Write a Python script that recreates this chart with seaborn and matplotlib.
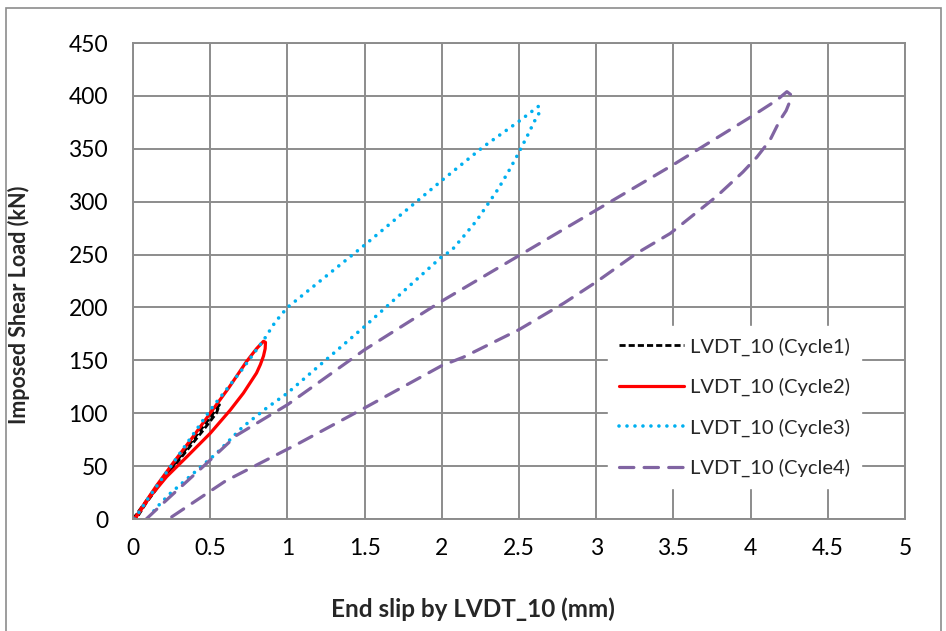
import numpy as np
import pandas as pd
import matplotlib
matplotlib.use("Agg")
import matplotlib.pyplot as plt
import seaborn as sns
from matplotlib.lines import Line2D

# ---- data ----
c1_x = [0.00, 0.10, 0.20, 0.30, 0.40, 0.50, 0.56, 0.54, 0.45, 0.30, 0.18, 0.08, 0.02]
c1_y = [0, 20, 39, 58, 77, 96, 108, 100, 83, 56, 34, 14, 0]

c2_x = [0.01, 0.067, 0.15, 0.26, 0.38, 0.50, 0.62, 0.736, 0.80, 0.845, 0.858, 0.856, 0.845,
        0.825, 0.80, 0.715, 0.63, 0.50, 0.35, 0.218, 0.11, 0.035, 0.01]
c2_y = [0, 13, 31, 53, 76, 100, 124, 149, 161, 168, 167, 161, 154, 146, 138, 119, 103, 81,
        59, 40, 21, 5, 0]

c3_x = [0.01, 0.10, 0.26, 0.50, 0.70, 0.85, 0.92, 1.00, 1.50, 2.00, 2.27, 2.50, 2.625, 2.635,
        2.60, 2.55, 2.49, 2.43, 2.365, 2.295, 2.225, 2.14, 2.064, 2.00, 1.50, 1.00, 0.866,
        0.71, 0.54, 0.39, 0.24, 0.16, 0.12]
c3_y = [0, 20, 53, 103, 140, 170, 186, 200, 259, 320, 352, 376, 390, 385, 376, 361, 344, 328,
        312, 297, 282, 267, 254, 248, 182, 119, 105, 87, 62, 43, 24, 12, 5]

c4_x = [0.086, 0.24, 0.48, 0.67, 1.00, 1.50, 2.00, 2.50, 3.00, 3.50, 4.00, 4.17, 4.235, 4.262,
        4.255, 4.23, 4.19, 4.125, 4.04, 3.95, 3.78, 3.48, 3.26, 3.00, 2.79, 2.50, 2.14, 2.00,
        1.50, 1.08, 0.60, 0.23]
c4_y = [0, 21, 53, 79, 108, 160, 206, 249, 292, 335, 380, 396, 404, 401, 395, 386, 377, 358,
        342, 328, 305, 270, 251, 224, 204, 179, 153, 145, 105, 72, 36, 0]

labels = ["LVDT_10 (Cycle1)", "LVDT_10 (Cycle2)", "LVDT_10 (Cycle3)", "LVDT_10 (Cycle4)"]
x_ticks = [0, 0.5, 1, 1.5, 2, 2.5, 3, 3.5, 4, 4.5, 5]
y_ticks = [0, 50, 100, 150, 200, 250, 300, 350, 400, 450]

# ---- style ----
sns.set_theme(style="white")
plt.rcParams["font.family"] = ["Lato", "DejaVu Sans"]

fig = plt.figure(figsize=(9.46, 6.31), dpi=100)
ax = fig.add_axes([133 / 946, 1 - 519 / 631, 772 / 946, 476 / 631])

styles = [
    dict(color="black", lw=2.0, dashes=(2.2, 1.1), capstyle="butt"),
    dict(color="#FF0000", lw=2.3, dashes=None, capstyle="round"),
    dict(color="#00B0F0", lw=2.6, dashes=(0.01, 2.2), capstyle="round"),
    dict(color="#8064A2", lw=2.3, dashes=(4.5, 3.2), capstyle="round"),
]

series = [(c1_x, c1_y), (c2_x, c2_y), (c3_x, c3_y), (c4_x, c4_y)]
handles = []
for (xs, ys), lab, st in zip(series, labels, styles):
    df = pd.DataFrame({"x": xs, "y": ys})
    n_before = len(ax.lines)
    sns.lineplot(data=df, x="x", y="y", sort=False, estimator=None, ax=ax,
                 color=st["color"], linewidth=st["lw"], legend=False)
    ln = ax.lines[n_before]
    if st["dashes"] is not None:
        ln.set_dashes(st["dashes"])
        ln.set_dash_capstyle(st["capstyle"])
    ln.set_solid_capstyle("round")
    ln.set_solid_joinstyle("round")
    ln.set_dash_joinstyle("round")
    h = Line2D([0], [0], color=st["color"], lw=st["lw"])
    if st["dashes"] is not None:
        h.set_dashes(st["dashes"])
        h.set_dash_capstyle(st["capstyle"])
    handles.append(h)

ax.set_xlim(0, 5)
ax.set_ylim(0, 450)
ax.set_xticks(x_ticks)
ax.set_xticklabels([f"{v:g}" for v in x_ticks])
ax.set_yticks(y_ticks)
ax.set_yticklabels([str(v) for v in y_ticks])
ax.grid(True, color="#8C8C8C", linewidth=1.4)
ax.set_axisbelow(True)
for s in ax.spines.values():
    s.set_color("#8C8C8C")
    s.set_linewidth(1.4)
ax.tick_params(axis="both", length=0, labelsize=16.5, colors="black")
ax.tick_params(axis="y", pad=18)
ax.tick_params(axis="x", pad=14)

ax.set_xlabel("End slip by LVDT_10 (mm)", fontsize=17.5, fontweight="bold")
ax.xaxis.set_label_coords(0.44, -0.165)
ax.set_ylabel("Imposed Shear Load (kN)", fontsize=15.5, fontweight="bold")
ax.yaxis.set_label_coords(-0.133, 0.45)

leg = ax.legend(handles, labels, loc="upper left", bbox_to_anchor=(0.615, 0.405),
                frameon=True, fontsize=14.5, handlelength=3.25, labelspacing=1.1,
                handletextpad=0.3, borderpad=0.55, borderaxespad=0)
leg.get_frame().set_facecolor("white")
leg.get_frame().set_edgecolor("white")
leg.get_frame().set_alpha(1)
leg.get_frame().set_boxstyle("square", pad=0)

# outer chart border
fig.add_artist(plt.Rectangle((6 / 946, -0.01), 935 / 946, 1 - 8 / 631 + 0.01,
                             transform=fig.transFigure, fill=False,
                             edgecolor="#8C8C8C", linewidth=1.2))

fig.savefig("out.png", dpi=100)
